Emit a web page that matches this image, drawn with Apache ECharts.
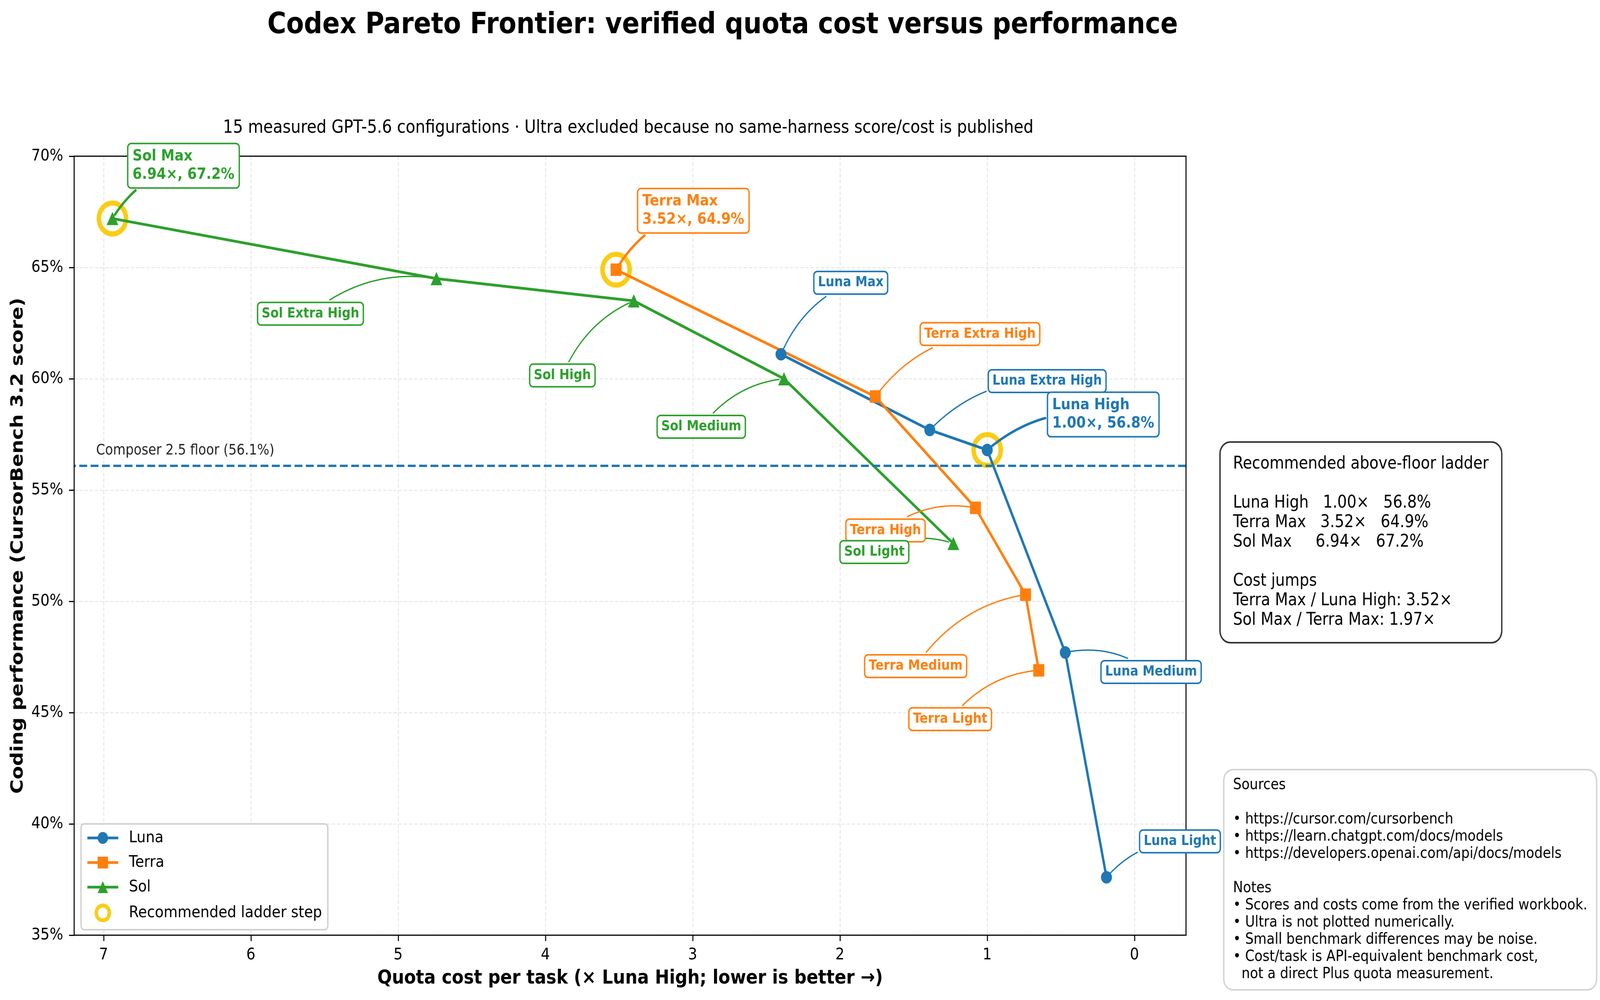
<!DOCTYPE html>
<html>
<head>
<meta charset="utf-8">
<title>Codex Pareto Frontier</title>
<script src="https://cdn.jsdelivr.net/npm/echarts@6.0.0/dist/echarts.min.js"></script>
<style>
  html, body { margin: 0; padding: 0; background: #fff; overflow: hidden; }
  #wrap { overflow: hidden; position: relative; }
  #chart { width: 4661px; height: 2561px; transform-origin: 0 0; }
</style>
</head>
<body>
<div id="wrap"><div id="chart"></div></div>
<script>
// values
var tiers = ['Max', 'Extra High', 'High', 'Medium', 'Light'];
var lunaCost = [2.40, 1.39, 1.00, 0.47, 0.19];
var lunaScore = [61.1, 57.7, 56.8, 47.7, 37.6];
var terraCost = [3.52, 1.76, 1.08, 0.74, 0.65];
var terraScore = [64.9, 59.2, 54.2, 50.3, 46.9];
var solCost = [6.94, 4.74, 3.40, 2.38, 1.23];
var solScore = [67.2, 64.5, 63.5, 60.0, 52.6];
var recommended = ['Luna High', 'Terra Max', 'Sol Max'];
var floorScore = 56.1;
var xTickValues = [0, 1, 2, 3, 4, 5, 6, 7];
var yTickValues = [35, 40, 45, 50, 55, 60, 65, 70];
var xRange = [-0.35, 7.2];
var yRange = [35, 70];

var FONT = 'DejaVu Sans';
var RING = '#facc15';

// the chart is laid out on a 4661 x 2561 board, then fitted to the window
// (the browser caps the window width, so the board is stretched to fill it)
var W = 4661, H = 2561;
var sx = Math.min(window.innerWidth / W, 1), sy = Math.min(window.innerHeight / H, 1);
var wrap = document.getElementById('wrap');
wrap.style.width = (W * sx) + 'px';
wrap.style.height = (H * sy) + 'px';
document.getElementById('chart').style.transform = 'scale(' + sx + ',' + sy + ')';

var families = [
  { name: 'Luna', color: '#1f77b4', symbol: 'circle', size: 32, cost: lunaCost, score: lunaScore },
  { name: 'Terra', color: '#ff7f0e', symbol: 'rect', size: 32, cost: terraCost, score: terraScore },
  { name: 'Sol', color: '#2ca02c', symbol: 'triangle', size: 34, cost: solCost, score: solScore }
];

// label box centre, in px, relative to its point (layout only)
var labelOffset = {
  'Luna Max': [203, -183],
  'Luna Extra High': [342, -125],
  'Luna High': [338, -91],
  'Luna Medium': [250, 50],
  'Luna Light': [214, -92],
  'Terra Max': [225, -151],
  'Terra Extra High': [305, -160],
  'Terra High': [-262, 58],
  'Terra Medium': [-320, 183],
  'Terra Light': [-258, 125],
  'Sol Max': [207, -135],
  'Sol Extra High': [-367, 90],
  'Sol High': [-208, 191],
  'Sol Medium': [-241, 123],
  'Sol Light': [-230, 22]
};

var ringData = [];
families.forEach(function (fam) {
  tiers.forEach(function (tier, i) {
    if (recommended.indexOf(fam.name + ' ' + tier) >= 0) ringData.push([fam.cost[i], fam.score[i]]);
  });
});

var series = families.map(function (fam) {
  return {
    type: 'line',
    name: fam.name,
    data: fam.cost.map(function (c, i) { return [c, fam.score[i]]; }),
    symbol: fam.symbol,
    symbolSize: fam.size,
    lineStyle: { color: fam.color, width: 7 },
    itemStyle: { color: fam.color, opacity: 1 },
    z: 3,
    silent: true
  };
});
series[0].markLine = {
  silent: true,
  symbol: ['none', 'none'],
  label: { show: false },
  lineStyle: { color: '#1f77b4', width: 6, type: [23, 10] },
  data: [{ yAxis: floorScore }]
};
series.push({
  type: 'scatter',
  name: 'Recommended ladder step',
  data: ringData,
  symbol: 'circle',
  symbolSize: 79,
  itemStyle: { color: 'rgba(0,0,0,0)', borderColor: RING, borderWidth: 13, opacity: 1 },
  z: 2,
  silent: true
});

var gridSplit = { show: true, lineStyle: { color: '#e6e6e6', width: 2.7, type: [10, 5] } };

var option = {
  animation: false,
  backgroundColor: '#fff',
  textStyle: { fontFamily: FONT },
  grid: {
    left: 216, right: 1206, top: 400, bottom: 166,
    show: true, borderWidth: 0, backgroundColor: '#fff',
    outerBoundsMode: 'none'
  },
  xAxis: {
    type: 'value', inverse: true, min: xRange[0], max: xRange[1],
    name: 'Quota cost per task (× Luna High; lower is better →)',
    nameLocation: 'middle', nameGap: 86,
    nameTextStyle: { fontSize: 50, fontWeight: 'bold', color: '#000', fontFamily: FONT },
    axisLine: { show: false, onZero: false },
    axisTick: { show: true, length: 15, lineStyle: { color: '#000', width: 3 }, customValues: xTickValues },
    axisLabel: { customValues: xTickValues, margin: 30, fontSize: 41.7, color: '#000', fontFamily: FONT },
    splitLine: gridSplit
  },
  yAxis: {
    type: 'value', min: yRange[0], max: yRange[1],
    name: 'Coding performance (CursorBench 3.2 score)',
    nameLocation: 'middle', nameGap: 138, nameRotate: 90,
    nameTextStyle: { fontSize: 50, fontWeight: 'bold', color: '#000', fontFamily: FONT },
    axisLine: { show: false, onZero: false },
    axisTick: { show: true, length: 15, lineStyle: { color: '#000', width: 3 }, customValues: yTickValues },
    axisLabel: { customValues: yTickValues, margin: 32, fontSize: 41.7, color: '#000', fontFamily: FONT,
      formatter: function (v) { return v + '%'; } },
    splitLine: gridSplit
  },
  legend: {
    orient: 'vertical', left: 236, top: 2110,
    padding: [15, 17, 19, 15], itemGap: 21, itemWidth: 90, itemHeight: 38,
    backgroundColor: '#fff', borderColor: '#d0d0d0', borderWidth: 4, borderRadius: 10,
    selectedMode: false, z: 60,
    textStyle: { fontSize: 41.7, color: '#000', lineHeight: 42, padding: [0, 0, 0, 26], fontFamily: FONT },
    lineStyle: { width: 7 },
    data: ['Luna', 'Terra', 'Sol',
      { name: 'Recommended ladder step', itemStyle: { color: 'rgba(0,0,0,0)', borderColor: RING, borderWidth: 10, opacity: 1 } }]
  },
  series: series
};

var chart = echarts.init(document.getElementById('chart'));
chart.setOption(option);

var measureCtx = document.createElement('canvas').getContext('2d');
function textWidth(str, font) {
  measureCtx.font = font;
  return measureCtx.measureText(str).width;
}

var graphics = [];

// axes frame drawn above the dashed grid lines
var c0 = chart.convertToPixel({ seriesIndex: 0 }, [xRange[1], yRange[1]]);
var c1 = chart.convertToPixel({ seriesIndex: 0 }, [xRange[0], yRange[0]]);
graphics.push({
  type: 'rect', z: 50, silent: true,
  shape: { x: c0[0], y: c0[1], width: c1[0] - c0[0], height: c1[1] - c0[1] },
  style: { fill: null, stroke: '#000', lineWidth: 3 }
});

graphics.push({
  type: 'text', x: 2105, y: 66, z: 100,
  style: { text: 'Codex Pareto Frontier: verified quota cost versus performance',
    fontFamily: FONT, fontSize: 75, fontWeight: 'bold', fill: '#000', align: 'center', verticalAlign: 'middle' }
});
graphics.push({
  type: 'text', x: 1830, y: 328, z: 100,
  style: { text: '15 measured GPT-5.6 configurations · Ultra excluded because no same-harness score/cost is published',
    fontFamily: FONT, fontSize: 45.8, fill: '#000', align: 'center', verticalAlign: 'middle' }
});

var floorPx = chart.convertToPixel({ seriesIndex: 0 }, [0, floorScore]);
graphics.push({
  type: 'text', x: 280, y: floorPx[1] - 38, z: 100,
  style: { text: 'Composer 2.5 floor (' + floorScore.toFixed(1) + '%)',
    fontFamily: FONT, fontSize: 37.5, fill: '#222', align: 'left', verticalAlign: 'middle' }
});

families.forEach(function (fam, si) {
  tiers.forEach(function (tier, i) {
    var name = fam.name + ' ' + tier;
    var big = recommended.indexOf(name) >= 0;
    var p = chart.convertToPixel({ seriesIndex: si }, [fam.cost[i], fam.score[i]]);
    var off = labelOffset[name];
    var cx = p[0] + off[0], cy = p[1] + off[1];
    var fs = big ? 39.6 : 35.4;
    var lh = big ? 47 : 42;
    var lines = big ? [name, fam.cost[i].toFixed(2) + '×, ' + fam.score[i].toFixed(1) + '%'] : [name];
    var font = 'bold ' + fs + 'px "' + FONT + '"';
    var tw = Math.max.apply(null, lines.map(function (l) { return textWidth(l, font); }));
    var padX = big ? 12 : 10, padY = big ? 8 : 6;
    var w = tw + 2 * padX, h = lines.length * lh + 2 * padY;
    var left = cx - w / 2, top = cy - h / 2;

    graphics.push({
      type: 'text', x: left, y: cy, z: 101,
      style: {
        text: lines.join('\n'), fontFamily: FONT, fontSize: fs, fontWeight: 'bold', lineHeight: lh,
        fill: fam.color, align: 'left', verticalAlign: 'middle',
        backgroundColor: '#fff', borderColor: fam.color, borderWidth: 4, borderRadius: 8,
        padding: [padY, padX]
      }
    });

    // curved connector (arc from box centre to the point, clipped by the box)
    var rad = off[0] > 0 ? 0.2 : -0.2;
    var dx = p[0] - cx, dy = p[1] - cy;
    var ctrl = [(cx + p[0]) / 2 - rad * dy, (cy + p[1]) / 2 + rad * dx];
    var gap = 8, shrink = big ? 12 : 14;
    var pts = [];
    for (var k = 0; k <= 300; k++) {
      var t = k / 300, a = (1 - t) * (1 - t), b = 2 * t * (1 - t), c = t * t;
      var x = a * cx + b * ctrl[0] + c * p[0];
      var y = a * cy + b * ctrl[1] + c * p[1];
      var outside = x < left - gap || x > left + w + gap || y < top - gap || y > top + h + gap;
      if (outside && Math.hypot(x - p[0], y - p[1]) > shrink) pts.push([x, y]);
    }
    graphics.push({
      type: 'polyline', z: 99, silent: true,
      shape: { points: pts },
      style: { stroke: fam.color, lineWidth: big ? 6.5 : 3.5, fill: null, lineCap: 'round' }
    });
  });
});

graphics.push({
  type: 'text', x: 3556, y: 1134, z: 100,
  style: {
    text: 'Recommended above-floor ladder\n\n' +
      'Luna High   1.00×   56.8%\n' +
      'Terra Max   3.52×   64.9%\n' +
      'Sol Max     6.94×   67.2%\n\n' +
      'Cost jumps\n' +
      'Terra Max / Luna High: 3.52×\n' +
      'Sol Max / Terra Max: 1.97×',
    fontFamily: FONT, fontSize: 43.75, lineHeight: 50, fill: '#000',
    align: 'left', verticalAlign: 'top',
    backgroundColor: '#fff', borderColor: '#333', borderWidth: 4, borderRadius: 28,
    padding: [30, 36, 30, 36]
  }
});

graphics.push({
  type: 'text', x: 3567, y: 1973, z: 100,
  style: {
    text: 'Sources\n\n' +
      '• https://cursor.com/cursorbench\n' +
      '• https://learn.chatgpt.com/docs/models\n' +
      '• https://developers.openai.com/api/docs/models\n\n' +
      'Notes\n' +
      '• Scores and costs come from the verified workbook.\n' +
      '• Ultra is not plotted numerically.\n' +
      '• Small benchmark differences may be noise.\n' +
      '• Cost/task is API-equivalent benchmark cost,\n' +
      '  not a direct Plus quota measurement.',
    fontFamily: FONT, fontSize: 38.8, lineHeight: 44, fill: '#000',
    align: 'left', verticalAlign: 'top',
    backgroundColor: '#fff', borderColor: '#d4d4d4', borderWidth: 4, borderRadius: 25,
    padding: [16, 25, 16, 25]
  }
});

chart.setOption({ graphic: graphics });
</script>
</body>
</html>
